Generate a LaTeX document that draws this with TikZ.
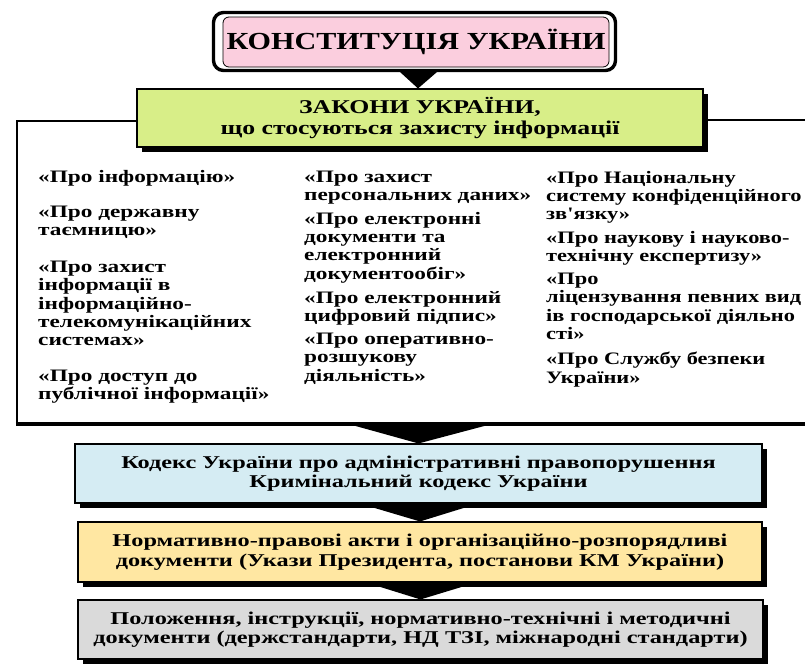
\documentclass[tikz,border=0pt]{standalone}
\usepackage{fontspec}
\setmainfont{Liberation Serif}
\newfontfamily\bodyfont{Liberation Serif}[FakeStretch=1.33]
\newfontfamily\rightfont{Liberation Serif}[FakeStretch=1.28]
\newfontfamily\boxfont{Liberation Serif}[FakeStretch=1.35]
\newfontfamily\headfont{Liberation Serif}[FakeStretch=1.23]
\newfontfamily\zakfont{Liberation Serif}[FakeStretch=1.32]
\usetikzlibrary{shadows}
\definecolor{kpink}{RGB}{251,206,222}
\definecolor{kgreen}{RGB}{216,238,136}
\definecolor{kblue}{RGB}{213,236,243}
\definecolor{kyellow}{RGB}{255,231,162}
\definecolor{kgrey}{RGB}{218,218,218}
\tikzset{
  lawbox/.style={draw=black, line width=1.1pt, inner sep=0pt, align=center,
    drop shadow={shadow xshift=5pt, shadow yshift=-5pt, fill=black, opacity=1},
    font=\boxfont\bfseries\fontsize{18}{19.5}\selectfont},
  lawtext/.style={anchor=north west, inner sep=0pt, align=left,
    font=\bodyfont\bfseries\fontsize{17.5}{18.3}\selectfont},
  lawtextr/.style={lawtext, font=\rightfont\bfseries\fontsize{17.5}{18.3}\selectfont},
  frameline/.style={draw=black, line width=2.2pt},
  arrowtri/.style={fill=black},
}
\begin{document}
\begin{tikzpicture}[x=1pt, y=-1pt]
\clip (0,0) rectangle (805,667);
\fill[white] (0,0) rectangle (805,667);
% top box
\node[draw=black, line width=3.4pt, rounded corners=10pt, minimum width=402pt, minimum height=58pt, inner sep=0pt] (kframe) at (414.5,41.5) {};
\node[draw=black, line width=0.8pt, fill=kpink, rounded corners=6pt, minimum width=386pt, minimum height=50pt, inner sep=0pt,
  font=\headfont\bfseries\fontsize{24.5}{28}\selectfont] (konst) at (416,42) {КОНСТИТУЦІЯ УКРАЇНИ};
% laws box
\node[lawbox, fill=kgreen, minimum width=566pt, minimum height=58pt,
  font=\zakfont\bfseries\fontsize{19.5}{21}\selectfont] (zakony) at (420,118) {ЗАКОНИ УКРАЇНИ,\\що стосуються захисту інформації};
% frame
\coordinate (fl) at (17,121);
\coordinate (fbl) at (17,424);
\coordinate (fbr) at (830,424);
\coordinate (fr) at (830,120);
\draw[frameline] (zakony.west |- fl) -- (fl) -- (fbl);
\draw[draw=black, line width=3.2pt] ([xshift=-1.1pt]fbl) -- (fbr);
\draw[frameline] (zakony.east |- fr) -- (fr);
% lower boxes
\node[lawbox, fill=kblue, minimum width=687pt, minimum height=59pt] (kodeks) at (418.5,473.5)
  {Кодекс України про адміністративні правопорушення\\Кримінальний кодекс України};
\node[lawbox, fill=kyellow, minimum width=684pt, minimum height=60pt] (akty) at (420,552)
  {Нормативно-правові акти і організаційно-розпорядливі\\документи (Укази Президента, постанови КМ України)};
\node[lawbox, fill=kgrey, minimum width=685pt, minimum height=59pt] (polozh) at (420.5,629.5)
  {Положення, інструкції, нормативно-технічні і методичні\\документи (держстандарти, НД ТЗІ, міжнародні стандарти)};
% arrow triangles
\fill[arrowtri] (400,72) -- (437,72) -- (zakony.north -| 418,0) -- cycle;
\fill[arrowtri] (352,425) -- (488,425) -- (kodeks.north) -- cycle;
\fill[arrowtri] (368,506) -- (470,506) -- (akty.north) -- cycle;
\fill[arrowtri] (374,585) -- (468,585) -- (polozh.north) -- cycle;
% column 1
\node[lawtext] (l1) at (38,170) {«Про інформацію»};
\node[lawtext] (l2) at (38,206) {«Про державну\\таємницю»};
\node[lawtext] (l3) at (38,261) {«Про захист\\інформації в\\інформаційно-\\телекомунікаційних\\системах»};
\node[lawtext] (l4) at (38,370) {«Про доступ до\\публічної інформації»};
% column 2
\node[lawtext] (m1) at (304,171) {«Про захист\\персональних даних»};
\node[lawtext] (m2) at (304,212) {«Про електронні\\документи та\\електронний\\документообіг»};
\node[lawtext] (m3) at (304,291) {«Про електронний\\цифровий підпис»};
\node[lawtext] (m4) at (304,333) {«Про оперативно-\\розшукову\\діяльність»};
% column 3
\node[lawtextr] (r1) at (546,171) {«Про Національну\\систему конфіденційного\\зв'язку»};
\node[lawtextr] (r2) at (546,231) {«Про наукову і науково-\\технічну експертизу»};
\node[lawtextr] (r3) at (546,273) {«Про\\ліцензування певних вид\\ів господарської діяльно\\сті»};
\node[lawtextr] (r4) at (546,352) {«Про Службу безпеки\\України»};
\end{tikzpicture}
\end{document}
